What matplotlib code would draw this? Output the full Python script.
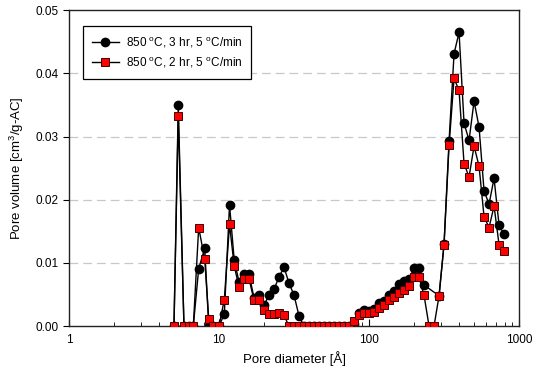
import numpy as np
import matplotlib
matplotlib.use("Agg")
import matplotlib.pyplot as plt
from matplotlib.ticker import FixedLocator, FixedFormatter, LogLocator, NullFormatter

plt.rcParams['font.family'] = ['Liberation Sans', 'DejaVu Sans']
plt.rcParams['mathtext.fontset'] = 'custom'
plt.rcParams['mathtext.rm'] = 'Liberation Sans'
plt.rcParams['mathtext.it'] = 'Liberation Sans:italic'

# Pore diameters [Å] (shared grid)
diam = [5.01, 5.35, 5.84, 6.28, 6.74, 7.32, 8.03, 8.54, 9.16, 10.0,
        10.85, 11.75, 12.63, 13.6, 14.68, 15.85, 17.11, 18.48, 19.95, 21.54,
        23.26, 25.12, 27.12, 29.29, 31.62, 34.15, 36.87, 39.81, 42.99, 46.42,
        50.12, 54.12, 58.43, 63.1, 68.13, 73.56, 79.43, 85.77, 92.6, 100.0,
        108.0, 116.6, 125.9, 135.9, 146.8, 158.5, 171.1, 184.8, 199.5, 215.4,
        232.6, 251.2, 271.2, 292.9, 316.2, 341.5, 368.7, 398.1, 429.9, 464.2,
        501.2, 541.2, 584.3, 631.0, 681.3, 735.6, 794.3]

# 850 °C, 2 hr (red squares)
vol_2hr = [0, 0.0332, 0, 0, 0, 0.0156, 0.0106, 0.0012, 0, 0,
           0.0042, 0.0161, 0.0095, 0.0062, 0.0074, 0.0075, 0.0041, 0.0041, 0.0025, 0.0019,
           0.0019, 0.0021, 0.0017, 0, 0, 0, 0, 0, 0, 0,
           0, 0, 0, 0, 0, 0, 0.0008, 0.0017, 0.0021, 0.0021,
           0.0022, 0.0029, 0.0033, 0.0042, 0.0046, 0.0053, 0.0057, 0.0063, 0.0078, 0.0077,
           0.0049, 0, 0, 0.0048, 0.0129, 0.0286, 0.0392, 0.0373, 0.0257, 0.0236,
           0.0285, 0.0253, 0.0173, 0.0156, 0.0190, 0.0129, 0.0119]

# 850 °C, 3 hr (black circles); None = no point at that diameter
vol_3hr = [0, 0.0350, 0, 0, 0, 0.0091, 0.0123, 0, 0, 0,
           0.0019, 0.0192, 0.0104, 0.0070, 0.0082, 0.0082, 0.0045, 0.0049, 0.0033, 0.0049,
           0.0058, 0.0078, 0.0093, 0.0068, 0.0049, 0.0016, 0, 0, 0, 0,
           0, 0, 0, 0, 0, 0, 0.0004, 0.0020, 0.0025, 0.0024,
           0.0027, 0.0036, 0.0040, 0.0049, 0.0056, 0.0066, 0.0072, 0.0074, 0.0092, 0.0092,
           0.0065, None, None, 0.0048, 0.0130, 0.0293, 0.0431, 0.0465, 0.0321, 0.0294,
           0.0356, 0.0315, 0.0214, 0.0193, 0.0234, 0.0160, 0.0145]

labels = ["850$\\ ^{\\mathrm{o}}$C, 3 hr, 5$\\ ^{\\mathrm{o}}$C/min",
          "850$\\ ^{\\mathrm{o}}$C, 2 hr, 5$\\ ^{\\mathrm{o}}$C/min"]
xticks = [1, 10, 100, 1000]
yticks = [0.00, 0.01, 0.02, 0.03, 0.04, 0.05]

d3 = [d for d, v in zip(diam, vol_3hr) if v is not None]
v3 = [v for v in vol_3hr if v is not None]

fig = plt.figure(figsize=(5.39, 3.77), dpi=100)
ax = fig.add_axes([0.128, 0.135, 0.835, 0.838])

for y in yticks[1:-1]:
    ax.axhline(y, color='#c8c8c8', lw=0.9, ls=(0, (7, 4)), zorder=0)

ax.plot(d3, v3, '-', color='black', lw=1.0, marker='o', ms=6,
        mfc='black', mec='black', label=labels[0], zorder=2)
ax.plot(diam, vol_2hr, '-', color='black', lw=1.0, marker='s', ms=5.2,
        mfc='#ff0000', mec='#400000', mew=0.7, label=labels[1], zorder=3)

ax.set_xscale('log')
ax.set_xlim(1, 1000)
ax.set_ylim(0, 0.05)
ax.xaxis.set_major_locator(FixedLocator(xticks))
ax.xaxis.set_major_formatter(FixedFormatter([str(t) for t in xticks]))
ax.xaxis.set_minor_locator(LogLocator(base=10, subs=np.arange(2, 10)))
ax.xaxis.set_minor_formatter(NullFormatter())
ax.set_yticks(yticks)
ax.set_yticklabels([f"{t:.2f}" for t in yticks])

ax.tick_params(axis='x', which='major', direction='in', length=5, width=0.8, labelsize=8.5, pad=6)
ax.tick_params(axis='x', which='minor', direction='in', length=3, width=0.6)
ax.tick_params(axis='y', which='major', direction='out', length=4, width=0.8, labelsize=8.5)
for s in ax.spines.values():
    s.set_color('#222222')
    s.set_linewidth(1.0)

ax.set_xlabel("Pore diameter [Å]", fontsize=9.5, labelpad=3)
ax.set_ylabel("Pore volume [cm$^{\\mathrm{3}}$/g-AC]", fontsize=9.5, labelpad=7)

leg = ax.legend(loc='upper left', bbox_to_anchor=(0.031, 0.95), borderaxespad=0,
                fontsize=8.5, frameon=True, fancybox=False, edgecolor='black',
                framealpha=1, borderpad=0.75, handlelength=2.3, labelspacing=0.45,
                handletextpad=0.6)
leg.get_frame().set_linewidth(0.9)

fig.savefig("out.png", dpi=100)
